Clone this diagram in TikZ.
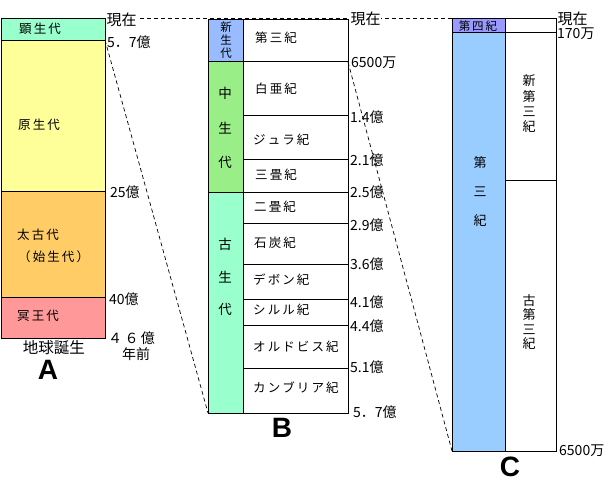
\documentclass[tikz,border=0pt]{standalone}
\usepackage{fontspec}
\setmainfont{Noto Sans CJK JP}
\newfontfamily\latb{Liberation Sans}
\definecolor{mint}{HTML}{99FFCC}
\definecolor{pyellow}{HTML}{FFFF99}
\definecolor{porange}{HTML}{FFCC66}
\definecolor{ppink}{HTML}{FF9999}
\definecolor{cenoblue}{HTML}{99BBFF}
\definecolor{mesogreen}{HTML}{99EE88}
\definecolor{quatpurple}{HTML}{9999FF}
\definecolor{tertblue}{HTML}{99CCFF}
\tikzset{
  box/.style={draw=black,line width=1pt},
  sep/.style={draw=black,line width=1pt},
  guide/.style={dash pattern=on 4pt off 3pt,line width=0.7pt},
  lbl/.style={anchor=west,inner sep=0pt,font=\fontsize{14}{14}\selectfont},
  nowlbl/.style={anchor=west,inner sep=0.5pt,fill=white,font=\fontsize{15}{15}\selectfont},
  era/.style={anchor=west,inner sep=0pt,font=\fontsize{12.5}{12.5}\selectfont},
  vtext/.style={align=center,inner sep=0pt},
  bigletter/.style={inner sep=0pt,font=\latb\bfseries\fontsize{28}{28}\selectfont}
}
\begin{document}
\begin{tikzpicture}[x=1pt,y=-1pt]
\useasboundingbox[fill=white] (0,0) rectangle (616,491);
% named corner points
\coordinate (Atr) at (105,18);
\coordinate (A57) at (105,40);
\coordinate (Bbl) at (208,413);
\coordinate (B65) at (348,62);
\coordinate (Ctl) at (452,18);
\coordinate (Cbl) at (452,451);
% guide lines
\draw[guide] (Atr) -- (Ctl);
\draw[guide] (A57) -- (Bbl);
\draw[guide] (B65) -- (Cbl);
% ---------------- Column A
\fill[mint] (1,18) rectangle (105,40);
\fill[pyellow] (1,40) rectangle (105,191);
\fill[porange] (1,191) rectangle (105,297);
\fill[ppink] (1,297) rectangle (105,338);
\draw[box] (1,18) rectangle (105,338);
\draw[sep] (1,40) -- (105,40);
\draw[sep] (1,191) -- (105,191);
\draw[sep] (1,297) -- (105,297);
\node[era] (a1) at (19,29) {顕\,生\,代};
\node[era] (a2) at (18,125) {原\,生\,代};
\node[era] (a3) at (17,235) {太\,古\,代};
\node[era] (a4) at (18,257) {（\,始\,生\,代\,）};
\node[era] (a5) at (17,316) {冥\,王\,代};
\node[nowlbl] (anow) at (106,20) {現在};
\node[lbl] (a57) at (107,42) {5．7億};
\node[lbl] (a25) at (110,192) {25億};
\node[lbl] (a40) at (109,299) {40億};
\node[lbl] (a46) at (108,338) {４\,６\,億};
\node[lbl] (anen) at (122,354) {年前};
\node[inner sep=0pt,font=\fontsize{15.5}{15.5}\selectfont] (abirth) at (54,348) {地球誕生};
\node[bigletter] (LA) at (48,370) {A};
% ---------------- Column B
\fill[cenoblue] (208,19) rectangle (243,61);
\fill[mesogreen] (208,61) rectangle (243,192);
\fill[mint] (208,192) rectangle (243,413);
\draw[box] (208,19) rectangle (348,413);
\draw[sep] (243,19) -- (243,413);
\draw[sep] (208,61) -- (348,61);
\draw[sep] (243,115) -- (348,115);
\draw[sep] (243,159) -- (348,159);
\draw[sep] (208,192) -- (348,192);
\draw[sep] (243,223) -- (348,223);
\draw[sep] (243,264) -- (348,264);
\draw[sep] (243,299) -- (348,299);
\draw[sep] (243,325) -- (348,325);
\draw[sep] (243,368) -- (348,368);
\node[vtext,font=\fontsize{11.5}{13}\selectfont] (bceno) at (226,40) {新\\生\\代};
\node[vtext,font=\fontsize{13.5}{34.5}\selectfont] (bmeso) at (225,128) {中\\生\\代};
\node[vtext,font=\fontsize{13.5}{32.5}\selectfont] (bpaleo) at (225,277) {古\\生\\代};
\node[era] (b1) at (255,38) {第\,三\,紀};
\node[era] (b2) at (255,89) {白\,亜\,紀};
\node[era] (b3) at (253,140) {ジ\,ュ\,ラ\,紀};
\node[era] (b4) at (255,175) {三\,畳\,紀};
\node[era] (b5) at (254,207) {二\,畳\,紀};
\node[era] (b6) at (254,243) {石\,炭\,紀};
\node[era] (b7) at (253,280) {デ\,ボ\,ン\,紀};
\node[era] (b8) at (253,310) {シ\,ル\,ル\,紀};
\node[era] (b9) at (253,347) {オ\,ル\,ド\,ビ\,ス\,紀};
\node[era] (b10) at (253,388) {カ\,ン\,ブ\,リ\,ア\,紀};
\node[nowlbl] (bnow) at (350,19) {現在};
\node[lbl] (b65) at (351,63) {6500万};
\node[lbl] (b14) at (350,117) {1.4億};
\node[lbl] (b21) at (350,160) {2.1億};
\node[lbl] (b25) at (350,192) {2.5億};
\node[lbl] (b29) at (350,225) {2.9億};
\node[lbl] (b36) at (350,264) {3.6億};
\node[lbl] (b41) at (350,302) {4.1億};
\node[lbl] (b44) at (350,326) {4.4億};
\node[lbl] (b51) at (350,367) {5.1億};
\node[lbl] (b57) at (353,412) {5．7億};
\node[bigletter] (LB) at (282,428) {B};
% ---------------- Column C
\fill[quatpurple] (452,18) rectangle (505,32);
\fill[tertblue] (452,32) rectangle (505,451);
\draw[box] (452,18) rectangle (556,451);
\draw[sep] (505,18) -- (505,451);
\draw[sep] (452,32) -- (556,32);
\draw[sep] (505,180) -- (556,180);
\node[inner sep=0pt,font=\fontsize{11.5}{11.5}\selectfont] (c4) at (478,26) {第\,四\,紀};
\node[vtext,font=\fontsize{13}{29}\selectfont] (c3) at (480,192) {第\\三\\紀};
\node[vtext,font=\fontsize{13}{15.3}\selectfont] (cneo) at (529,104) {新\\第\\三\\紀};
\node[vtext,font=\fontsize{13}{14.3}\selectfont] (cpaleo) at (529,322) {古\\第\\三\\紀};
\node[nowlbl] (cnow) at (557,19) {現在};
\node[lbl] (c170) at (557,34) {170万};
\node[lbl] (c65) at (559,451) {6500万};
\node[bigletter] (LC) at (510,467) {C};
\end{tikzpicture}
\end{document}
